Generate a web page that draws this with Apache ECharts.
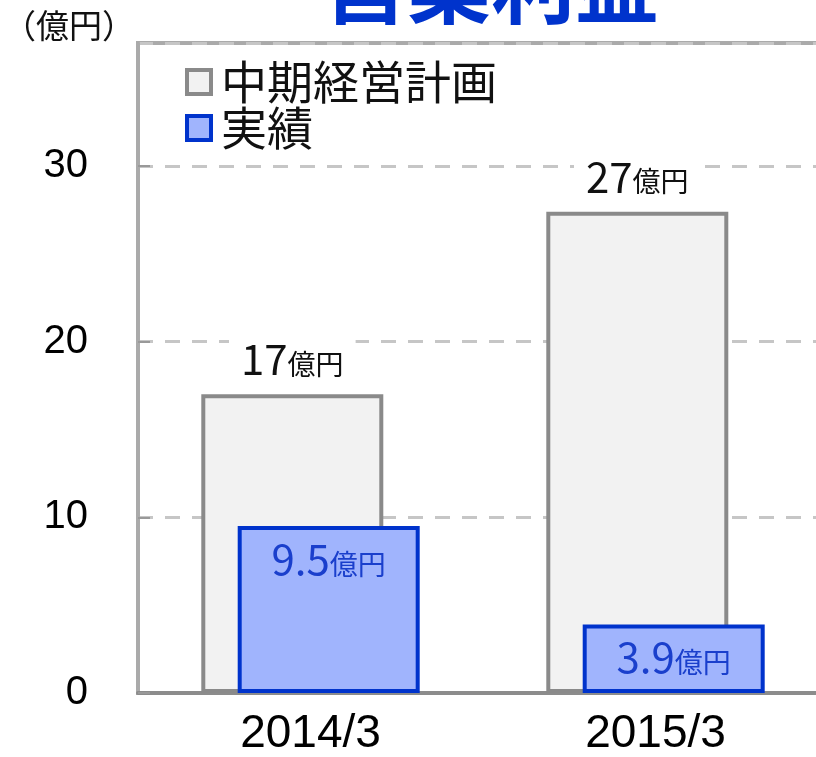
<!DOCTYPE html>
<html>
<head>
<meta charset="utf-8">
<script src="https://cdn.jsdelivr.net/npm/echarts@6/dist/echarts.min.js"></script>
<style>
  html, body { margin: 0; padding: 0; background: #fff; overflow: hidden; }
  #chart { width: 840px; height: 757px; }
</style>
</head>
<body>
<div id="chart"></div>
<script>
const categories = ['2014/3', '2015/3']
const planValues = [17, 27.4]
const planLabels = ['17', '27']
const actualValues = [9.5, 3.9]
const actualLabels = ['9.5', '3.9']
const seriesNames = ['中期経営計画', '実績']

const chart = echarts.init(document.getElementById('chart'))

const jpFont = '"Noto Sans CJK JP", "Noto Sans", sans-serif'

chart.setOption({
  animation: false,
  title: {
    text: '営業利益',
    left: 486,
    textAlign: 'center',
    top: -62,
    textStyle: { color: '#0033cc', fontSize: 84, fontWeight: 'bold', fontFamily: jpFont },
  },
  graphic: [
    {
      type: 'text',
      left: 3,
      top: 9,
      style: { text: '（億円）', fill: '#111', fontSize: 33, fontFamily: 'Noto Sans CJK JP' },
    },
  ],
  legend: {
    orient: 'vertical',
    left: 180,
    top: 54,
    itemWidth: 24,
    itemHeight: 24,
    itemGap: 0,
    icon: 'rect',
    data: seriesNames,
    itemStyle: { borderWidth: 4 },
    textStyle: { color: '#111', fontSize: 46, lineHeight: 46, fontFamily: jpFont, padding: [0, 0, 0, 5] },
  },
  grid: {
    left: 138,
    top: 43,
    width: 690,
    bottom: 64,
    show: true,
    borderColor: '#aaaaaa',
    borderWidth: 4,
  },
  xAxis: {
    type: 'category',
    data: categories,
    axisLine: { lineStyle: { color: '#8c8c8c', width: 4 } },
    axisTick: { show: false },
    axisLabel: { color: '#000', fontSize: 46, margin: 18, fontFamily: '"Liberation Sans", Arial, sans-serif' },
  },
  yAxis: {
    type: 'value',
    min: 0,
    max: 37,
    interval: 10,
    axisLine: { show: true, lineStyle: { color: '#aaaaaa', width: 3 } },
    axisTick: { show: true, inside: true, length: 12, lineStyle: { color: '#999', width: 2 } },
    axisLabel: { color: '#000', fontSize: 40, margin: 50, showMaxLabel: false, fontFamily: '"Liberation Sans", Arial, sans-serif' },
    splitLine: { lineStyle: { color: '#c6c6c6', width: 3, type: [15, 12] } },
  },
  series: [
    {
      name: seriesNames[0],
      type: 'bar',
      barWidth: 182,
      barGap: '-80%',
      data: planValues,
      itemStyle: { color: '#f2f2f2', borderColor: '#8a8a8a', borderWidth: 4 },
      label: {
        show: true,
        position: 'top',
        distance: 12,
        backgroundColor: '#fff',
        padding: [2, 12, 2, 12],
        formatter: p => '{n|' + planLabels[p.dataIndex] + '}{u|億円}',
        rich: {
          n: { fontSize: 42, color: '#111', fontFamily: jpFont },
          u: { fontSize: 28, color: '#111', fontFamily: jpFont, padding: [10, 0, 0, 0] },
        },
      },
      z: 2,
    },
    {
      name: seriesNames[1],
      type: 'bar',
      barWidth: 182,
      data: actualValues,
      itemStyle: { color: '#a0b4fd', borderColor: '#0033cc', borderWidth: 4 },
      label: {
        show: true,
        position: 'insideTop',
        distance: 12,
        formatter: p => '{n|' + actualLabels[p.dataIndex] + '}{u|億円}',
        rich: {
          n: { fontSize: 42, color: '#1a3fcc', fontFamily: jpFont },
          u: { fontSize: 28, color: '#1a3fcc', fontFamily: jpFont, padding: [10, 0, 0, 0] },
        },
      },
      z: 3,
    },
  ],
})
</script>
</body>
</html>
